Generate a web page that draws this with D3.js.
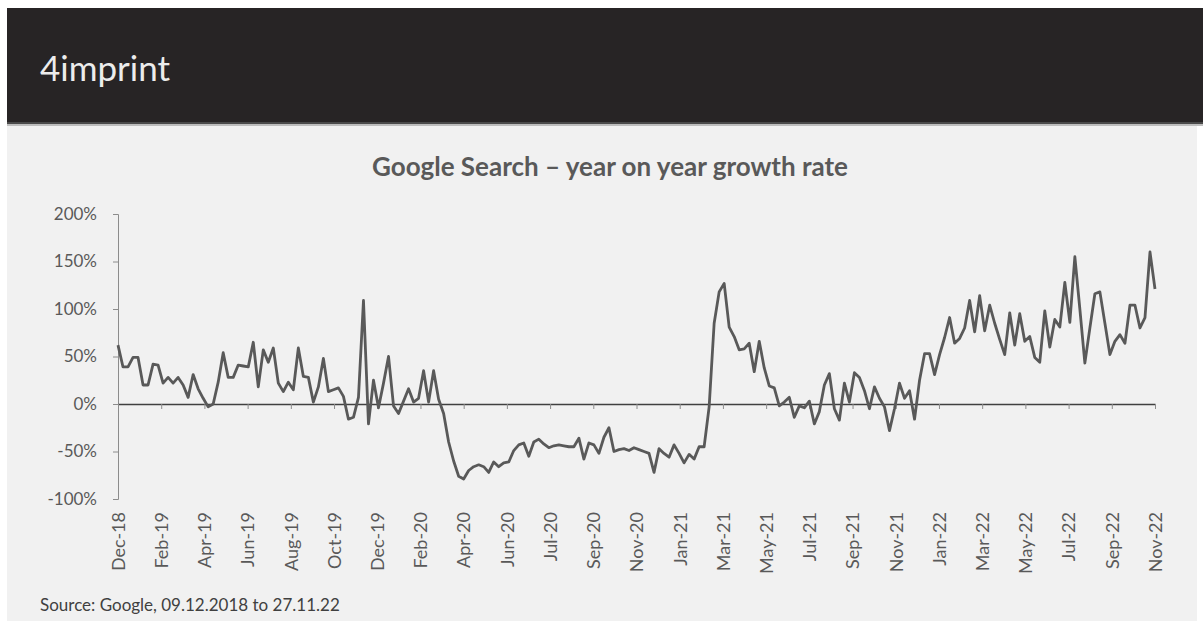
<!DOCTYPE html>
<html>
<head>
<meta charset="utf-8">
<script src="https://cdn.jsdelivr.net/npm/d3@7"></script>
<style>
  body { margin: 0; background: #fff; }
  svg { display: block; font-family: Lato, "Open Sans", sans-serif; }
</style>
</head>
<body>
<svg id="chart"></svg>
<script>
const width = 1203;
const height = 631;

// weekly search growth, 09.12.2018 -> 27.11.2022 (percent)
const growth = [
  62, 39, 39, 49, 49, 20, 20, 42, 41, 22,
  28, 22, 28, 20, 7, 31, 16, 6, -3, 0,
  23, 54, 28, 28, 41, 40, 39, 65, 18, 57,
  44, 59, 22, 13, 23, 15, 59, 29, 28, 2,
  18, 48, 13, 15, 17, 8, -16, -14, 7, 109,
  -21, 25, -4, 22, 50, -2, -10, 3, 16, 2,
  6, 35, 2, 35, 5, -10, -40, -60, -76, -79,
  -70, -66, -64, -66, -72, -61, -66, -62, -61, -49,
  -43, -41, -55, -40, -37, -42, -46, -44, -43, -44,
  -45, -45, -36, -58, -41, -43, -52, -35, -25, -50,
  -48, -47, -49, -46, -48, -50, -52, -72, -47, -52,
  -56, -43, -52, -62, -53, -58, -45, -45, -3, 85,
  118, 127, 81, 71, 57, 58, 64, 34, 66, 38,
  19, 17, -2, 2, 7, -14, -2, -4, 3, -21,
  -8, 20, 32, -5, -17, 22, 2, 33, 28, 14,
  -5, 18, 6, -3, -28, -5, 22, 6, 14, -16,
  25, 53, 53, 31, 52, 70, 91, 64, 69, 80,
  109, 76, 114, 77, 104, 85, 68, 52, 96, 62,
  95, 66, 71, 49, 44, 98, 60, 89, 81, 128,
  86, 155, 100, 43, 80, 116, 118, 85, 52, 66,
  73, 64, 104, 104, 80, 91, 160, 121
];

const monthLabels = [
  "Dec-18", "Feb-19", "Apr-19", "Jun-19", "Aug-19", "Oct-19", "Dec-19",
  "Feb-20", "Apr-20", "Jun-20", "Jul-20", "Sep-20", "Nov-20", "Jan-21",
  "Mar-21", "May-21", "Jul-21", "Sep-21", "Nov-21", "Jan-22", "Mar-22",
  "May-22", "Jul-22", "Sep-22", "Nov-22"
];

const yTicks = [-100, -50, 0, 50, 100, 150, 200];

const svg = d3.select("#chart").attr("width", width).attr("height", height);

// page panels
svg.append("rect").attr("x", 7).attr("y", 123).attr("width", 1190).attr("height", 498).attr("fill", "#f1f1f1");
svg.append("rect").attr("x", 7).attr("y", 8).attr("width", 1196).attr("height", 115).attr("fill", "#272425");
svg.append("rect").attr("x", 7).attr("y", 122).attr("width", 1196).attr("height", 2).attr("fill", "#4a4a4a");
svg.append("rect").attr("x", 7).attr("y", 124).attr("width", 1196).attr("height", 2).attr("fill", "#bdbdbd");

svg.append("text")
  .attr("x", 40).attr("y", 81)
  .attr("fill", "#ececec")
  .style("font-size", "35px")
  .text("4imprint");

svg.append("text")
  .attr("x", 610).attr("y", 176)
  .attr("text-anchor", "middle")
  .attr("fill", "#595959")
  .style("font-size", "26px")
  .style("font-weight", "bold")
  .text("Google Search \u2013 year on year growth rate");

const x = d3.scaleLinear().domain([0, growth.length - 1]).range([118, 1155]);
const y = d3.scaleLinear().domain([-100, 200]).range([499, 214]);

// y axis
const yAxis = svg.append("g")
  .attr("transform", `translate(${x(0)},0)`)
  .call(d3.axisLeft(y).tickValues(yTicks).tickFormat((d) => d + "%").tickSize(5).tickPadding(16));
yAxis.selectAll("path, line").attr("stroke", "#8c8c8c");
yAxis.selectAll("text").attr("fill", "#595959").style("font-size", "17px").style("font-family", "Lato, sans-serif");

// label positions: 25 month labels spread evenly over the weeks
const labelPos = monthLabels.map((m, i) => (i * (growth.length - 1)) / (monthLabels.length - 1));

// zero line with ticks
const zeroAxis = svg.append("g")
  .attr("transform", `translate(0,${y(0)})`)
  .call(d3.axisBottom(x).tickValues(labelPos).tickFormat("").tickSize(5).tickSizeOuter(0));
zeroAxis.select(".domain").attr("stroke", "#404040").attr("stroke-width", 1.3);
zeroAxis.selectAll("line").attr("stroke", "#8c8c8c");

// month labels at the bottom
const labelAxis = svg.append("g")
  .attr("transform", `translate(0,${y(-100)})`)
  .call(d3.axisBottom(x).tickValues(labelPos).tickFormat((d, i) => monthLabels[i]).tickSize(0));
labelAxis.select(".domain").remove();
labelAxis.selectAll("text")
  .attr("transform", "rotate(-90)")
  .attr("x", -13)
  .attr("y", 0)
  .attr("dy", "0.35em")
  .attr("text-anchor", "end")
  .attr("fill", "#595959")
  .style("font-size", "18px")
  .style("font-family", "Lato, sans-serif");

const line = d3.line()
  .x((d, i) => x(i))
  .y((d) => y(d));

svg.append("path")
  .datum(growth)
  .attr("d", line)
  .attr("fill", "none")
  .attr("stroke", "#595959")
  .attr("stroke-width", 2.8)
  .attr("stroke-linejoin", "round");

svg.append("text")
  .attr("x", 40).attr("y", 611)
  .attr("fill", "#404040")
  .style("font-size", "17px")
  .text("Source: Google, 09.12.2018 to 27.11.22");
</script>
</body>
</html>
